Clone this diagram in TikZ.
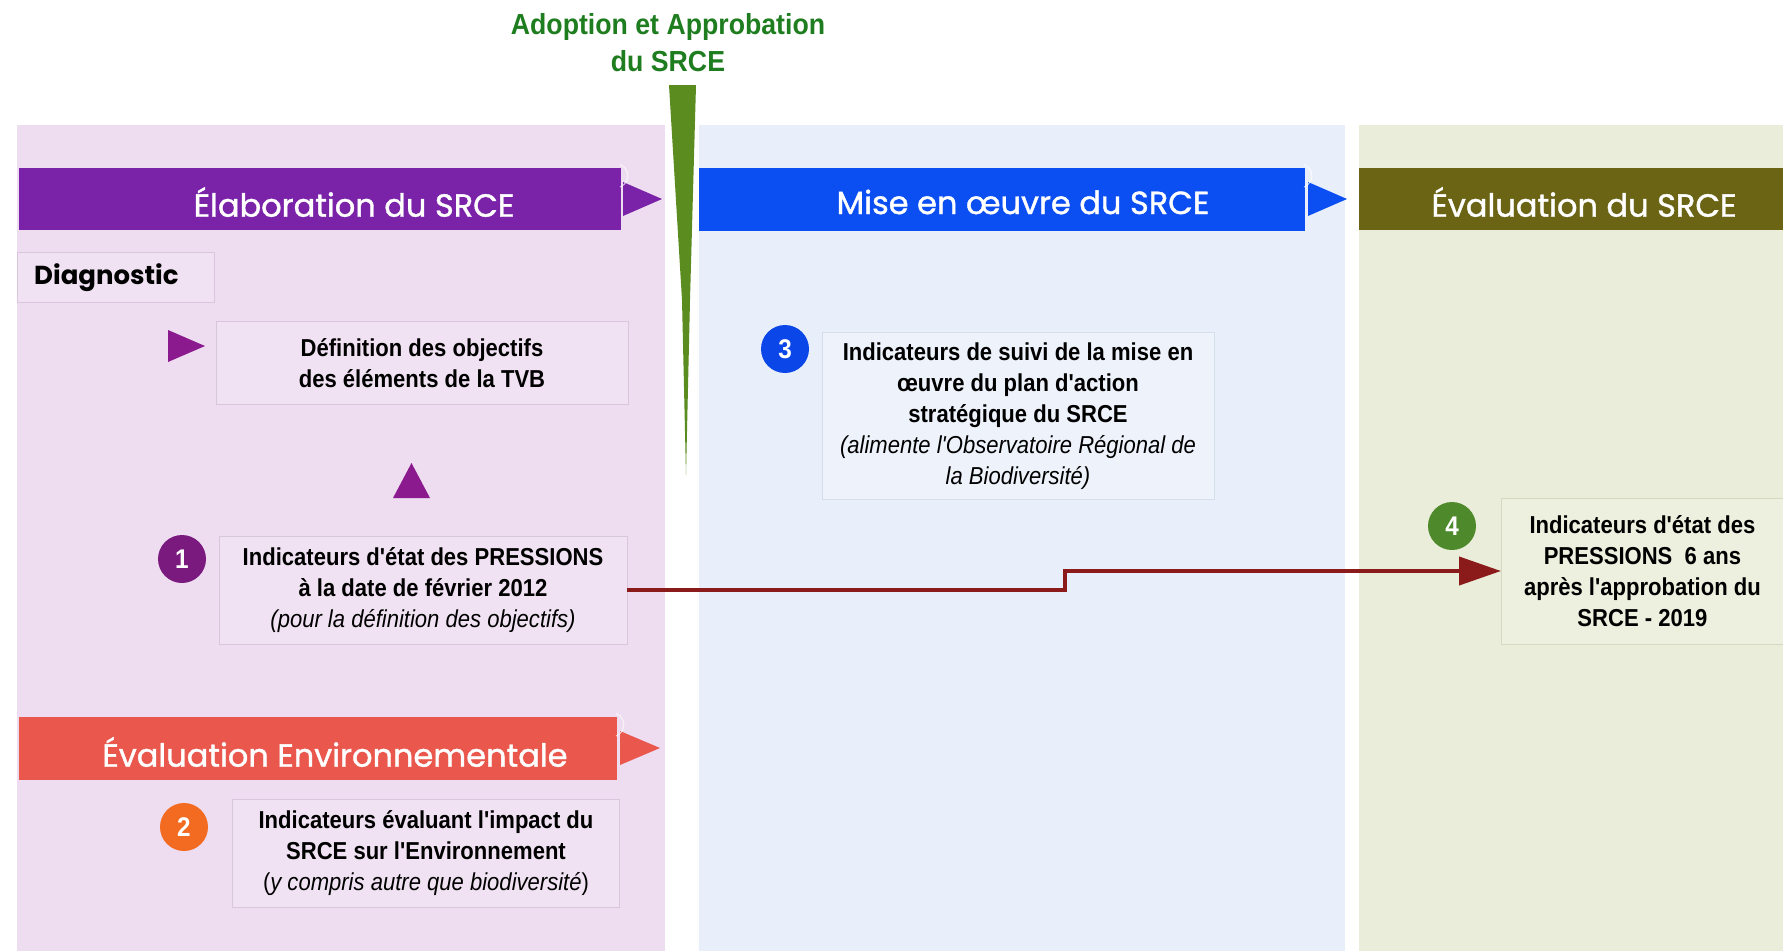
\documentclass[tikz,border=0pt]{standalone}
\usepackage{fontspec}
\setmainfont{Liberation Sans}
\newfontfamily\narrowf[FakeStretch=0.9]{Liberation Sans}
\newfontfamily\titlef[FakeStretch=0.92]{Liberation Sans}
\newfontfamily\gothic[FakeBold=1.2]{Poppins}
\newfontfamily\gothicb{Poppins}
\usetikzlibrary{arrows.meta}
\definecolor{pinkbg}{HTML}{EEDDF0}
\definecolor{bluebg}{HTML}{E8EFFA}
\definecolor{greenbg}{HTML}{E9EDD9}
\definecolor{purplebar}{HTML}{7A22A8}
\definecolor{bluebar}{HTML}{0B4EF2}
\definecolor{olivebar}{HTML}{6B6415}
\definecolor{coralbar}{HTML}{E9574D}
\definecolor{c1}{HTML}{7B1A7E}
\definecolor{c2}{HTML}{F26B21}
\definecolor{c3}{HTML}{0B47E8}
\definecolor{c4}{HTML}{4E8A2B}
\definecolor{connred}{HTML}{8B1A1A}
\definecolor{tri}{HTML}{8B1A8E}
\definecolor{wedge}{HTML}{5B8C1F}
\definecolor{titlegreen}{HTML}{1E7D1E}
\definecolor{pinkbox}{HTML}{F0E2F2}
\definecolor{pinkline}{HTML}{D9C6DC}
\definecolor{bluebox}{HTML}{EEF3FB}
\definecolor{blueline}{HTML}{D6DEEA}
\definecolor{greenbox}{HTML}{EDF0DF}
\definecolor{greenline}{HTML}{D5D9C2}
\begin{document}
\begin{tikzpicture}[x=1pt,y=-1pt,
  bartext/.style={text=white,font=\gothic\fontsize{32}{36}\selectfont,inner sep=0},
  txtbox/.style={draw,line width=0.8pt,align=center,inner sep=0,
    font=\narrowf\bfseries\fontsize{24.5}{31}\selectfont},
  num/.style={circle,minimum size=48pt,inner sep=0,text=white,
    font=\narrowf\bfseries\fontsize{27}{27}\selectfont},
  conn/.style={draw=connred,line width=4pt,-{Triangle[length=42pt,width=28pt]}},
  smallarc/.style={draw=white,line width=1pt,opacity=0.7}
]
\useasboundingbox (0,0) rectangle (1783,951);
\fill[white] (0,0) rectangle (1783,951);
% panels
\fill[pinkbg] (17,125) rectangle (665,951);
\fill[bluebg] (699,125) rectangle (1345,951);
\fill[greenbg] (1359,125) rectangle (1783,951);
% title
\node[text=titlegreen,font=\titlef\bfseries\fontsize{29}{37}\selectfont,align=center,inner sep=0] (adopt) at (668,43) {Adoption et Approbation\\du SRCE};
% wedge
\fill[wedge] (669,85) -- (696,85) -- (690,300) -- (686,475) -- (682,300) -- cycle;
% bars
\fill[purplebar] (19,168) rectangle (621,230);
\fill[purplebar] (623,182) -- (662,199) -- (623,216) -- cycle;
\draw[smallarc] (620,187) arc[start angle=70,end angle=-70,radius=12];
\node[bartext] (elab) at (354,202) {Élaboration du SRCE};
\fill[bluebar] (699,168) rectangle (1305,231);
\fill[bluebar] (1308,182) -- (1347,199) -- (1308,216) -- cycle;
\draw[smallarc] (1304,187) arc[start angle=70,end angle=-70,radius=12];
\node[bartext] (mise) at (1023,202) {Mise en œuvre du SRCE};
\fill[olivebar] (1359,168) rectangle (1783,230);
\node[bartext] (evals) at (1584,202) {Évaluation du SRCE};
\fill[coralbar] (19,717) rectangle (617,780);
\fill[coralbar] (620,731) -- (660,748) -- (620,765) -- cycle;
\draw[smallarc] (616,736) arc[start angle=70,end angle=-70,radius=12];
\node[bartext] (evalenv) at (335,752) {Évaluation Environnementale};
% diagnostic
\node[draw=pinkline,fill=pinkbox,line width=0.8pt,minimum width=197pt,minimum height=50pt,anchor=north west,inner sep=0] (diagbox) at (17,252) {};
\node[font=\gothicb\bfseries\fontsize{26}{30}\selectfont,anchor=west,inner sep=0] (diag) at (34,278) {Diagnostic};
% triangles
\fill[tri] (168,330) -- (205,346) -- (168,362) -- cycle;
\fill[tri] (393,498) -- (411.5,463) -- (430,498) -- cycle;
% text boxes
\node[txtbox,draw=pinkline,fill=pinkbox,minimum width=412pt,minimum height=83pt] (def) at (422,363) {Définition des objectifs\\des éléments de la TVB};
\node[txtbox,draw=pinkline,fill=pinkbox,minimum width=408pt,minimum height=108pt] (b1) at (423,590) {Indicateurs d'état des PRESSIONS\\à la date de février 2012\\\mdseries\itshape (pour la définition des objectifs)};
\node[txtbox,draw=blueline,fill=bluebox,minimum width=392pt,minimum height=167pt] (b3) at (1018,416) {Indicateurs de suivi de la mise en\\œuvre du plan d'action\\stratégique du SRCE\\\mdseries\itshape (alimente l'Observatoire Régional de\\\mdseries\itshape la Biodiversité)};
\node[txtbox,draw=greenline,fill=greenbox,minimum width=282pt,minimum height=146pt,anchor=west] (b4) at (1501,571) {Indicateurs d'état des\\PRESSIONS~~6 ans\\après l'approbation du\\SRCE - 2019};
\node[txtbox,draw=pinkline,fill=pinkbox,minimum width=387pt,minimum height=108pt] (b2) at (426,853) {Indicateurs évaluant l'impact du\\SRCE sur l'Environnement\\\mdseries(\itshape y compris autre que biodiversité\/\upshape)};
% numbers
\node[num,fill=c1] (n1) at (182,559) {1};
\node[num,fill=c2] (n2) at (184,827) {2};
\node[num,fill=c3] (n3) at (785,349) {3};
\node[num,fill=c4] (n4) at (1452,526) {4};
% connector
\coordinate (stp) at (1065,0);
\draw[conn] (b1.east) -- (b1.east -| stp) |- (b4.west);
\end{tikzpicture}
\end{document}
